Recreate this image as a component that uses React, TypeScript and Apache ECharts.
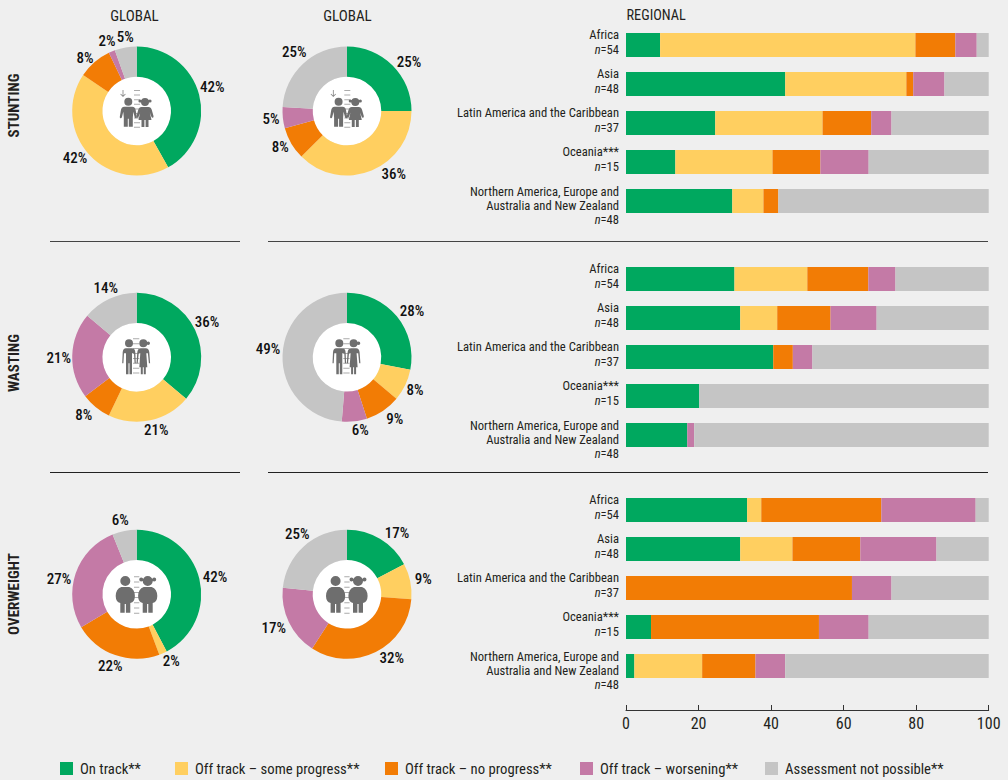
import React, { useEffect, useRef } from "react";
import * as echarts from "echarts";

const FONT = '"Liberation Sans Narrow","Roboto Condensed","DejaVu Sans Condensed",sans-serif';
const INK = "#231f20";
const BG = "#efefef";

const statuses = ["On track**", "Off track – some progress**", "Off track – no progress**", "Off track – worsening**", "Assessment not possible**"];
const colors = ["#00a85f", "#ffcf60", "#f27c05", "#c47aa6", "#c5c5c5"];

const regions = ["Africa", "Asia", "Latin America and the Caribbean", "Oceania***", "Northern America, Europe and\nAustralia and New Zealand"];
const regionN = [54, 48, 37, 15, 48];
const xTicks = [0, 20, 40, 60, 80, 100];

// regional shares, %
const stuntingOnTrack = [9.4, 43.9, 24.6, 13.6, 29.3];
const stuntingSome = [70.4, 33.4, 29.6, 26.8, 8.6];
const stuntingNone = [11, 1.9, 13.4, 13.2, 4.1];
const stuntingWorse = [5.9, 8.6, 5.6, 13.3, 0];
const stuntingNA = [3.3, 12.2, 26.8, 33.1, 58];

const wastingOnTrack = [29.9, 31.5, 40.6, 20.2, 16.9];
const wastingSome = [20.1, 10.2, 0, 0, 0];
const wastingNone = [16.8, 14.7, 5.4, 0, 0];
const wastingWorse = [7.5, 12.7, 5.4, 0, 1.9];
const wastingNA = [25.7, 30.9, 48.6, 79.8, 81.2];

const overweightOnTrack = [33.4, 31.5, 0, 6.9, 2.3];
const overweightSome = [3.9, 14.4, 0, 0, 18.7];
const overweightNone = [33.1, 18.7, 62.3, 46.3, 14.7];
const overweightWorse = [26, 21, 10.9, 13.7, 8.2];
const overweightNA = [3.6, 14.4, 26.8, 33.1, 56.1];

// global donuts: slice sizes as drawn and the labels as printed
const stuntingA = [41.9, 42.5, 8.5, 1.6, 5.5];
const stuntingALabels = ["42%", "42%", "8%", "2%", "5%"];
const stuntingB = [25, 37.5, 8.2, 5.3, 24];
const stuntingBLabels = ["25%", "36%", "8%", "5%", "25%"];
const wastingA = [36.1, 21, 7.6, 21.4, 13.9];
const wastingALabels = ["36%", "21%", "8%", "21%", "14%"];
const wastingB = [28.1, 8, 8.9, 6.3, 48.7];
const wastingBLabels = ["28%", "8%", "9%", "6%", "49%"];
const overweightA = [42.3, 2, 22.2, 27.4, 6.1];
const overweightALabels = ["42%", "2%", "22%", "27%", "6%"];
const overweightB = [17.3, 8.9, 32.9, 17.5, 23.4];
const overweightBLabels = ["17%", "9%", "32%", "17%", "25%"];

// layout only
const LEFT_X = 136.7;
const RIGHT_X = 347;
const ROW_Y = [111, 357.3, 594.3];
const GRID_TOPS = [25.5, 259.5, 490.5];

const LABEL_POS: number[][][] = [
  [[212.3, 86.7], [75, 157.7], [85, 58], [107, 41.3], [125.3, 36.7]],
  [[409, 61.7], [393.7, 173.7], [280.3, 146.7], [271, 118.7], [294.3, 51.7]],
  [[207, 321.7], [156.3, 429.7], [83.7, 414.7], [58.7, 357.7], [105.7, 287.7]],
  [[412, 310.7], [415, 389.7], [394.7, 418.7], [360.3, 429.7], [268, 348.7]],
  [[215, 576.7], [171.3, 661], [110.3, 665.7], [59, 578.7], [120.3, 520]],
  [[397, 532.7], [423.3, 579.3], [391.7, 657.7], [273.7, 627.7], [297.3, 533.7]],
];

const LEGEND_X = [60, 175, 385, 580, 765];

// pictograms
const disc = (cx: number, cy: number, r: number) => `M${cx - r},${cy}a${r},${r} 0 1,0 ${2 * r},0a${r},${r} 0 1,0 ${-2 * r},0Z`;
const ticks = (x0: number, x1: number, y0: number, n: number, step: number) => {
  let d = "";
  for (let i = 0; i < n; i++) {
    const y = y0 + i * step;
    d += `M${x0},${y}L${x1},${y}L${x1},${y + 1}L${x0},${y + 1}Z`;
  }
  return d;
};
const shapes: Record<string, string> = {
  boyS: disc(0, 0, 4) + "M-4,5L4,5Q7,5 7.5,9L8.5,15Q8.7,16.5 7.6,16.6Q6.8,16.7 6.4,15.5L5,10L4.5,16L4.5,25L0.5,25L0.5,17L-0.5,17L-0.5,25L-4.5,25L-4.5,16L-5,10L-6.4,15.5Q-6.8,16.7 -7.6,16.6Q-8.7,16.5 -8.5,15L-7.5,9Q-7,5 -4,5Z",
  girlS: disc(0, 0, 4) + disc(-5, -1, 1.6) + disc(5, -1, 1.6) + "M-3.5,5L3.5,5Q6,5 6.8,8L8.5,14Q8.8,15.5 7.7,15.8Q6.9,16 6.4,14.8L4.8,10.5L6.5,18L3.5,18L3.5,25L0.6,25L0.6,18L-0.6,18L-0.6,25L-3.5,25L-3.5,18L-6.5,18L-4.8,10.5L-6.4,14.8Q-6.9,16 -7.7,15.8Q-8.8,15.5 -8.5,14L-6.8,8Q-6,5 -3.5,5Z",
  boyW: disc(0, 0, 4) + "M-3,5L3,5Q6,5 6.3,9L6.8,20L5.6,20L5,10L3,10L3,31L0.5,31L0.5,20L-0.5,20L-0.5,31L-3,31L-3,10L-5,10L-5.6,20L-6.8,20L-6.3,9Q-6,5 -3,5Z",
  girlW: disc(0, 0, 4) + disc(5, 0, 1.7) + "M-2.5,5L2.5,5Q5.5,5 6,9L6.8,20L5.6,20L4.6,10L3,10L4,24L2.5,24L2.5,31L0.5,31L0.5,24L-0.5,24L-0.5,31L-2.5,31L-2.5,24L-4,24L-3,10L-4.6,10L-5.6,20L-6.8,20L-6,9Q-5.5,5 -2.5,5Z",
  boyO: disc(0, 0, 5) + "M-4,6L4,6Q9.5,8 9.6,15Q9.5,21 5,22L5,31.7L0.6,31.7L0.6,23L-0.6,23L-0.6,31.7L-5,31.7L-5,22Q-9.5,21 -9.6,15Q-9.5,8 -4,6Z",
  girlO: disc(0, 0, 5) + disc(-6.5, -1.5, 2) + disc(6.5, -1.5, 2) + "M-4,6L4,6Q9.5,8 9.6,15Q9.5,21 5,22L5,31.7L0.6,31.7L0.6,23L-0.6,23L-0.6,31.7L-5,31.7L-5,22Q-9.5,21 -9.6,15Q-9.5,8 -4,6Z",
  ladderS: ticks(-2.7, 3.3, -21, 9, 4.6),
  ladderW: ticks(-3.7, 2.6, -19, 8, 4.9),
  ladderO: ticks(-2.7, 2.6, -18, 8, 5.2),
  arrow: "M-14.1,-21L-13.3,-21L-13.3,-15.4L-11.5,-17.2L-11,-16.7L-13.7,-14L-16.4,-16.7L-15.9,-17.2L-14.1,-15.4Z",
};
Object.keys(shapes).forEach((k) => echarts.graphic.registerShape(k, echarts.graphic.extendPath(shapes[k], {})));

const ICON_GREY = "#6e6e6e";
const LADDER_GREY = "#ababab";
const icon = (cx: number, cy: number, v: "S" | "W" | "O") => {
  const heads = v === "S" ? [[-8.4, -9.3], [8.3, -9]] : v === "W" ? [[-7.7, -14], [6.6, -14]] : [[-11.4, -13.3], [11, -13.3]];
  const children: any[] = [
    { type: "ladder" + v, style: { fill: LADDER_GREY } },
    { type: "boy" + v, x: heads[0][0], y: heads[0][1], style: { fill: ICON_GREY } },
    { type: "girl" + v, x: heads[1][0], y: heads[1][1], style: { fill: ICON_GREY } },
  ];
  if (v === "S") children.push({ type: "arrow", style: { fill: "#808080" } });
  return { type: "group", x: cx, y: cy, silent: true, children };
};

const txt = (text: string, x: number, y: number, size: number, weight: string, align: string, rotation = 0) => ({
  type: "text",
  x,
  y,
  rotation,
  silent: true,
  style: { text, fill: INK, fontFamily: FONT, fontSize: size, fontWeight: weight, align, verticalAlign: "middle", textAlign: align, textVerticalAlign: "middle" },
});

const rule = (x1: number, x2: number, y: number, stroke: string) => ({
  type: "line",
  silent: true,
  shape: { x1, y1: y, x2, y2: y },
  style: { stroke, lineWidth: 1 },
});

const regionLabel = (value: string, index: number) => {
  const three = value.includes("\n");
  const s = three ? "b" : "a";
  const lines = value.split("\n").map((l) => `{${s}|${l}}`);
  lines.push(`{${three ? "j" : "i"}|n}{${s}|=${regionN[index]}}`);
  return lines.join("\n");
};

const axisCategories = regions.map((r) => ({
  value: r,
  textStyle: { padding: r.includes("\n") ? [8, 0, 0, 0] : [0, 0, 6, 0] },
}));

const LABEL_SIZE = 12.6;

function buildOption() {
  const panels = [
    [stuntingOnTrack, stuntingSome, stuntingNone, stuntingWorse, stuntingNA],
    [wastingOnTrack, wastingSome, wastingNone, wastingWorse, wastingNA],
    [overweightOnTrack, overweightSome, overweightNone, overweightWorse, overweightNA],
  ];
  const donuts = [
    [stuntingA, stuntingALabels, LEFT_X, 0], [stuntingB, stuntingBLabels, RIGHT_X, 0],
    [wastingA, wastingALabels, LEFT_X, 1], [wastingB, wastingBLabels, RIGHT_X, 1],
    [overweightA, overweightALabels, LEFT_X, 2], [overweightB, overweightBLabels, RIGHT_X, 2],
  ] as [number[], string[], number, number][];

  const bars = panels.flatMap((panel, p) =>
    panel.map((vals, s) => ({
      type: "bar",
      name: statuses[s],
      stack: "p" + p,
      xAxisIndex: p,
      yAxisIndex: p,
      barWidth: 24,
      silent: true,
      itemStyle: { color: colors[s] },
      data: vals,
    }))
  );

  const pies = donuts.map(([vals, labels, cx, row], d) => ({
    type: "pie",
    center: [cx, ROW_Y[row]],
    radius: [34.3, 64.5],
    startAngle: 90,
    clockwise: true,
    silent: true,
    avoidLabelOverlap: false,
    label: {
      show: true,
      position: "outside",
      formatter: (p: any) => labels[p.dataIndex],
      fontFamily: FONT,
      fontSize: 15,
      fontWeight: 500,
      color: "#111",
    },
    labelLine: { show: false },
    labelLayout: (p: any) => ({
      x: LABEL_POS[d][p.dataIndex][0],
      y: LABEL_POS[d][p.dataIndex][1],
      align: "center",
      verticalAlign: "middle",
    }),
    data: vals.map((v, i) => ({ name: statuses[i], value: v, itemStyle: { color: colors[i] } })),
  }));

  const graphicEls: any[] = [];
  ROW_Y.forEach((y, r) => {
    const v = (["S", "W", "O"] as const)[r];
    [LEFT_X, RIGHT_X].forEach((x) => {
      graphicEls.push({ type: "circle", silent: true, shape: { cx: x, cy: y, r: 34.3 }, style: { fill: "#fff" } });
      graphicEls.push(icon(x, y, v));
    });
  });
  graphicEls.push(
    txt("GLOBAL", 134.5, 15.5, 15, "normal", "center"),
    txt("GLOBAL", 347.5, 15.5, 15, "normal", "center"),
    txt("REGIONAL", 626.5, 14.5, 14.3, "normal", "left"),
    txt("STUNTING", 14, 105.5, 15, "bold", "center", Math.PI / 2),
    txt("WASTING", 14, 363, 15, "bold", "center", Math.PI / 2),
    txt("OVERWEIGHT", 14, 594, 15, "bold", "center", Math.PI / 2),
    rule(50, 240, 241.5, "#444"),
    rule(268, 988, 241.5, "#444"),
    rule(50, 240, 472.5, "#222"),
    rule(268, 988, 472.5, "#222")
  );

  return {
    animation: false,
    backgroundColor: BG,
    textStyle: { fontFamily: FONT },
    graphic: graphicEls,
    legend: statuses.map((name, i) => ({
      show: true,
      data: [name],
      left: LEGEND_X[i],
      top: 759,
      icon: "rect",
      itemWidth: 13,
      itemHeight: 13,
      itemGap: 0,
      padding: [2, 0, 2, 0],
      selectedMode: false,
      textStyle: { fontFamily: FONT, fontSize: 14.7, color: INK, padding: [0, 0, 0, 2] },
    })),
    grid: GRID_TOPS.map((top) => ({ left: 626, width: 362.7, top, height: 195, containLabel: false })),
    xAxis: GRID_TOPS.map((_, p) => ({
      type: "value",
      gridIndex: p,
      min: 0,
      max: 100,
      interval: 20,
      show: p === 2,
      offset: 24.5,
      splitLine: { show: false },
      axisLine: { show: true, lineStyle: { color: "#333", width: 1 } },
      axisTick: { show: true, inside: true, length: 5, lineStyle: { color: "#333", width: 1 } },
      axisLabel: { show: true, margin: 5, fontFamily: FONT, fontSize: 16, color: INK, showMinLabel: true, showMaxLabel: true, hideOverlap: false, customValues: xTicks },
    })),
    yAxis: GRID_TOPS.map((_, p) => ({
      type: "category",
      gridIndex: p,
      inverse: true,
      data: axisCategories,
      axisLine: { show: false },
      axisTick: { show: false },
      splitLine: { show: false },
      axisLabel: {
        show: true,
        interval: 0,
        margin: 7,
        align: "right",
        formatter: regionLabel,
        rich: {
          a: { fontFamily: FONT, fontSize: LABEL_SIZE, lineHeight: 15, color: INK, align: "right" },
          i: { fontFamily: FONT, fontSize: LABEL_SIZE, lineHeight: 15, color: INK, fontStyle: "italic", align: "right" },
          b: { fontFamily: FONT, fontSize: LABEL_SIZE, lineHeight: 14, color: INK, align: "right" },
          j: { fontFamily: FONT, fontSize: LABEL_SIZE, lineHeight: 14, color: INK, fontStyle: "italic", align: "right" },
        },
      },
    })),
    series: [...bars, ...pies],
  };
}

export default function App() {
  const ref = useRef<HTMLDivElement>(null);
  useEffect(() => {
    document.body.style.margin = "0";
    document.body.style.background = BG;
    const chart = echarts.init(ref.current!, undefined, { renderer: "svg" });
    chart.setOption(buildOption() as any);
    return () => chart.dispose();
  }, []);
  return <div ref={ref} style={{ width: 1008, height: 780 }} />;
}
